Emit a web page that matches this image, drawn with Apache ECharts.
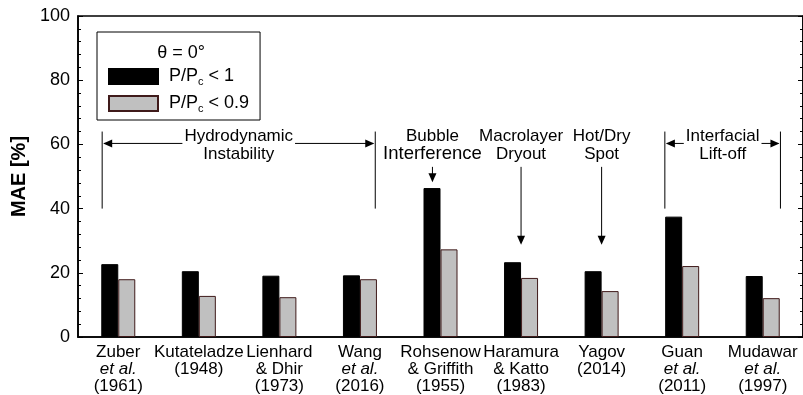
<!DOCTYPE html>
<html>
<head>
<meta charset="utf-8">
<script src="https://cdn.jsdelivr.net/npm/echarts@6/dist/echarts.min.js"></script>
<style>
html,body{margin:0;padding:0;background:#fff;}
#chart{width:803px;height:395px;}
</style>
</head>
<body>
<div id="chart"></div>
<script>
// ---- data ----
const categories = [
  'Zuber\net al.\n(1961)',
  'Kutateladze\n(1948)',
  'Lienhard\n& Dhir\n(1973)',
  'Wang\net al.\n(2016)',
  'Rohsenow\n& Griffith\n(1955)',
  'Haramura\n& Katto\n(1983)',
  'Yagov\n(2014)',
  'Guan\net al.\n(2011)',
  'Mudawar\net al.\n(1997)'
];
const seriesNames = ['P/Pc < 1', 'P/Pc < 0.9'];
const maeBelow1 = [22.7, 20.5, 19.1, 19.2, 46.4, 23.3, 20.5, 37.5, 19.0];
const maeBelow09 = [18.0, 12.8, 12.4, 18.0, 27.3, 18.4, 14.3, 22.1, 12.1];
const yTicks = [0, 20, 40, 60, 80, 100];
const legendTitle = 'θ = 0°';

// annotation data (x in category units, y in MAE %)
const bracketSpans = [[-0.2, 3.19], [6.785, 8.22]];
const bracketLabels = [['Hydrodynamic', 'Instability'], ['Interfacial', 'Lift-off']];
const bracketLevels = {bottom: 40, top: 64, arrow: 60.3};
const pointerX = [3.9, 5, 6];
const pointerTip = [48.2, 28.7, 28.7];
const pointerLabels = [['Bubble', 'Interference'], ['Macrolayer', 'Dryout'], ['Hot/Dry', 'Spot']];
const pointerStart = 53;
const labelLines = [62.6, 57.0];

const FONT = '"Liberation Sans", Arial, Helvetica, sans-serif';

const chart = echarts.init(document.getElementById('chart'), null, {renderer: 'canvas'});

function txt(text, x, y, size) {
  return {
    type: 'text',
    style: {
      text: text, x: x, y: y, align: 'center', verticalAlign: 'middle',
      font: size + 'px ' + FONT, fill: '#000',
      backgroundColor: '#fff', padding: [0, 2]
    },
    z2: 10
  };
}
function seg(x1, y1, x2, y2) {
  return {type: 'line', shape: {x1, y1, x2, y2}, style: {stroke: '#000', lineWidth: 1}};
}
function tri(points) {
  return {type: 'polygon', shape: {points}, style: {fill: '#000'}};
}

function renderBracket(params, api) {
  const i = params.dataIndex;
  const x0 = api.value(0), x1 = api.value(1);
  const lb = api.coord([x0, bracketLevels.bottom]);
  const lt = api.coord([x0, bracketLevels.top]);
  const la = api.coord([x0, bracketLevels.arrow]);
  const rb = api.coord([x1, bracketLevels.bottom]);
  const rt = api.coord([x1, bracketLevels.top]);
  const ra = api.coord([x1, bracketLevels.arrow]);
  const mid = api.coord([(x0 + x1) / 2, labelLines[0]]);
  const l2 = api.coord([(x0 + x1) / 2, labelLines[1]]);
  const y = la[1];
  return {
    type: 'group',
    children: [
      seg(lb[0], lb[1], lt[0], lt[1]),
      seg(rb[0], rb[1], rt[0], rt[1]),
      seg(la[0] + 2, y, ra[0] - 2, y),
      tri([[la[0] + 1, y], [la[0] + 10, y - 4], [la[0] + 10, y + 4]]),
      tri([[ra[0] - 1, y], [ra[0] - 10, y - 4], [ra[0] - 10, y + 4]]),
      txt(bracketLabels[i][0], mid[0], mid[1], 17),
      txt(bracketLabels[i][1], l2[0], l2[1], 17)
    ]
  };
}

function renderPointer(params, api) {
  const i = params.dataIndex;
  const x = api.value(0);
  const s = api.coord([x, pointerStart]);
  const t = api.coord([x, api.value(1)]);
  const m1 = api.coord([x, labelLines[0]]);
  const m2 = api.coord([x, labelLines[1]]);
  return {
    type: 'group',
    children: [
      seg(s[0], s[1], t[0], t[1] - 6),
      tri([[t[0], t[1]], [t[0] - 4, t[1] - 9], [t[0] + 4, t[1] - 9]]),
      txt(pointerLabels[i][0], m1[0], m1[1], 17),
      txt(pointerLabels[i][1], m2[0], m2[1], i === 0 ? 18.5 : 17)
    ]
  };
}

const yAxisCommon = {
  type: 'value', min: yTicks[0], max: yTicks[yTicks.length - 1], interval: yTicks[1] - yTicks[0],
  axisLine: {show: true, onZero: false, lineStyle: {color: '#000', width: 1.6}},
  axisTick: {show: true, inside: true, length: 5, lineStyle: {color: '#000', width: 1}},
  minorTick: {show: true, splitNumber: 5, length: 3, lineStyle: {color: '#000', width: 1}},
  splitLine: {show: false}
};

const option = {
  backgroundColor: '#fff',
  animation: false,
  title: {
    text: legendTitle, left: 176, top: 39, textAlign: 'center',
    textStyle: {fontFamily: FONT, fontSize: 18, fontWeight: 'normal', color: '#000'}
  },
  legend: {
    data: seriesNames,
    left: 97, top: 32, orient: 'vertical',
    padding: [34, 11, 6, 11], itemGap: 6,
    itemWidth: 49, itemHeight: 15,
    borderColor: '#000', borderWidth: 1,
    icon: 'rect', selectedMode: false,
    formatter: function (name) {
      const m = name.match(/^P\/Pc(.*)$/);
      return '{n|P/P}{s|c}{n|' + m[1] + '}';
    },
    textStyle: {
      fontFamily: FONT, fontSize: 18, color: '#000',
      rich: {
        n: {fontFamily: FONT, fontSize: 18, color: '#000', lineHeight: 18},
        s: {fontFamily: FONT, fontSize: 11, color: '#000', lineHeight: 18, padding: [10, 0, 0, 0]}
      },
      padding: [0, 0, 0, 6]
    }
  },
  grid: {left: 78, top: 16, width: 728, height: 321, show: true, borderColor: '#000', borderWidth: 1.6, backgroundColor: 'transparent'},
  xAxis: [
    {
      type: 'category', data: categories,
      axisLine: {show: true, onZero: false, lineStyle: {color: '#000', width: 1.6}},
      axisTick: {show: false},
      axisLabel: {
        interval: 0, margin: 7, color: '#000', fontFamily: FONT, fontSize: 17, lineHeight: 17,
        formatter: function (v) {
          return v.split('\n').map(l => l === 'et al.' ? '{i|et al.}' : '{n|' + l + '}').join('\n');
        },
        rich: {
          n: {fontFamily: FONT, fontSize: 17, lineHeight: 17, color: '#000'},
          i: {fontFamily: FONT, fontSize: 17, lineHeight: 17, color: '#000', fontStyle: 'italic'}
        }
      }
    },
    {type: 'value', min: -0.5, max: 8.5, show: false, axisLine: {onZero: false}}
  ],
  yAxis: [
    Object.assign({}, yAxisCommon, {
      position: 'left',
      name: 'MAE [%]', nameLocation: 'middle', nameGap: 40, nameRotate: 90,
      nameTextStyle: {fontFamily: FONT, fontSize: 20, fontWeight: 'bold', color: '#000'},
      axisLabel: {show: true, margin: 8, color: '#000', fontFamily: FONT, fontSize: 18}
    }),
    Object.assign({}, yAxisCommon, {
      position: 'right', axisLabel: {show: false}
    })
  ],
  series: [
    {
      name: seriesNames[0], type: 'bar', data: maeBelow1, barWidth: 17, barGap: '0%',
      itemStyle: {color: '#000', borderColor: '#000', borderWidth: 1}
    },
    {
      name: seriesNames[1], type: 'bar', data: maeBelow09, barWidth: 17, barGap: '0%',
      itemStyle: {color: '#c0c0c0', borderColor: '#3f1a1a', borderWidth: 1}
    },
    {
      type: 'custom', xAxisIndex: 1, yAxisIndex: 0, silent: true, clip: false, z: 5,
      data: bracketSpans, renderItem: renderBracket
    },
    {
      type: 'custom', xAxisIndex: 1, yAxisIndex: 0, silent: true, clip: false, z: 5,
      data: pointerX.map((x, i) => [x, pointerTip[i]]), renderItem: renderPointer
    }
  ]
};
chart.setOption(option);
</script>
</body>
</html>
